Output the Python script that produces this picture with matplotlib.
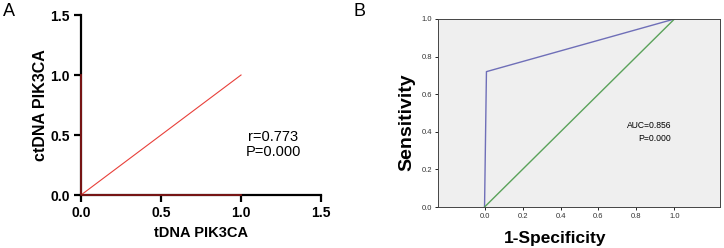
import numpy as np
import matplotlib
matplotlib.use("Agg")
import matplotlib.pyplot as plt

plt.rcParams['font.family'] = ['Liberation Sans', 'DejaVu Sans']

# panel A: correlation tDNA vs ctDNA
corr_x = [0.0, 1.0]
corr_y = [0.0, 1.0]
axis_red_x = [0.0, 0.0, 1.0]
axis_red_y = [1.0, 0.0, 0.0]
a_ticks = [0.0, 0.5, 1.0, 1.5]
r_text = "r=0.773\nP=0.000"

# panel B: ROC curve
roc_fpr = [0.0, 0.01, 1.0]
roc_tpr = [0.0, 0.72, 1.0]
ref_x = [0.0, 1.0]
ref_y = [0.0, 1.0]
b_ticks = [0.0, 0.2, 0.4, 0.6, 0.8, 1.0]
auc_text = "AUC=0.856\nP=0.000"

fig = plt.figure(figsize=(7.24, 2.48), dpi=100)

# ---- A
ax1 = fig.add_axes([0.1119, 0.2137, 0.3315, 0.7258])
ax1.plot(corr_x, corr_y, color='#e8403a', lw=0.8, zorder=3)
ax1.plot(axis_red_x, axis_red_y, color='#8e1a1a', lw=1.2, zorder=4, clip_on=False)
ax1.set_xlim(0, 1.5)
ax1.set_ylim(0, 1.5)
ax1.set_xticks(a_ticks)
ax1.set_yticks(a_ticks)
ax1.set_xticklabels([f"{t:.1f}" for t in a_ticks], fontsize=10, fontweight='bold')
ax1.set_yticklabels([f"{t:.1f}" for t in a_ticks], fontsize=10, fontweight='bold')
for s in ['top', 'right']:
    ax1.spines[s].set_visible(False)
for s in ['left', 'bottom']:
    ax1.spines[s].set_linewidth(1.6)
ax1.tick_params(width=1.6, length=5, pad=3)
ax1.set_xlabel('tDNA PIK3CA', fontsize=10.5, fontweight='bold', labelpad=4)
ax1.set_ylabel('ctDNA PIK3CA', fontsize=11.5, fontweight='bold', labelpad=2)
ax1.text(1.2, 0.42, r_text, fontsize=10.5, ha='center', va='center', linespacing=1.15)
fig.text(0.004, 0.955, 'A', fontsize=13, va='center')

# ---- B
ax2 = fig.add_axes([0.605, 0.1653, 0.3895, 0.7581])
ax2.set_facecolor('#efefef')
ax2.plot(roc_fpr, roc_tpr, color='#6f6fb8', lw=1.0)
ax2.plot(ref_x, ref_y, color='#5aa25a', lw=1.0)
ax2.set_xlim(-0.245, 1.24)
ax2.set_ylim(0, 1.0)
ax2.set_xticks(b_ticks)
ax2.set_yticks(b_ticks)
ax2.set_xticklabels([f"{t:.1f}" for t in b_ticks], fontsize=5.5, color='#333333')
ax2.set_yticklabels([f"{t:.1f}" for t in b_ticks], fontsize=5.5, color='#333333')
ax2.tick_params(length=2.5, width=0.6, pad=1.5)
for s in ax2.spines.values():
    s.set_linewidth(0.7)
    s.set_color('#444444')
ax2.set_xlabel('1-Specificity', fontsize=12.5, fontweight='bold')
ax2.set_ylabel('Sensitivity', fontsize=14, fontweight='bold')
ax2.xaxis.set_label_coords(0.415, -0.125)
ax2.yaxis.set_label_coords(-0.08, 0.45)
ax2.text(0.983, 0.40, auc_text, fontsize=6.2, ha='right', va='center', linespacing=1.5)
fig.text(0.488, 0.955, 'B', fontsize=13, va='center')

fig.savefig('out.png', dpi=100)
